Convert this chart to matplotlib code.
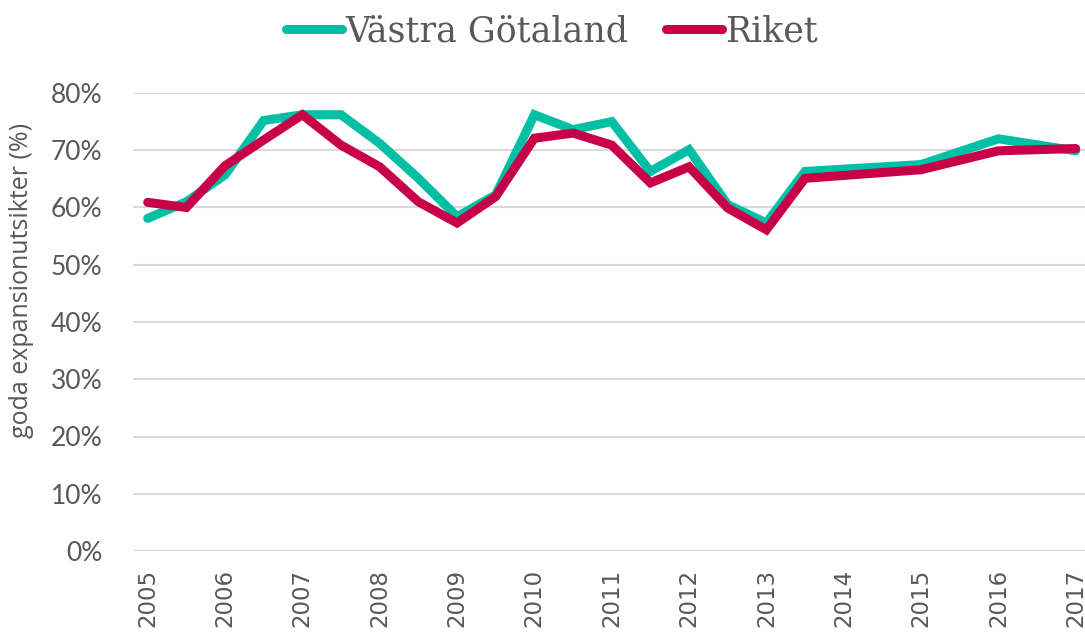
import matplotlib
matplotlib.use("Agg")
import matplotlib.pyplot as plt
from matplotlib.ticker import PercentFormatter

# Data (half-yearly until 2013.5, then yearly)
x_vals = [2005, 2005.5, 2006, 2006.5, 2007, 2007.5, 2008, 2008.5, 2009, 2009.5,
          2010, 2010.5, 2011, 2011.5, 2012, 2012.5, 2013, 2013.5, 2015, 2016, 2017]
vastra_gotaland = [58.1, 61.0, 65.7, 75.2, 76.2, 76.2, 71.2, 65.1, 58.4, 62.2,
                   76.2, 73.6, 75.0, 66.3, 70.1, 60.5, 57.3, 66.3, 67.5, 72.0, 69.9]
riket = [60.9, 60.0, 67.3, 71.8, 76.2, 70.9, 67.1, 61.0, 57.3, 61.9,
         72.1, 73.0, 70.9, 64.3, 67.1, 59.9, 56.1, 65.1, 66.6, 69.9, 70.3]
year_ticks = list(range(2005, 2018))
y_ticks = [0, 10, 20, 30, 40, 50, 60, 70, 80]

GREEN = "#00BFA5"
RED = "#C8004A"
TXT = "#595959"

fig = plt.figure(figsize=(10.85, 6.37), dpi=100)
ax = fig.add_axes([133/1085, 86/637, (1085-133)/1085, 458/637])

ax.plot(x_vals, vastra_gotaland, color=GREEN, lw=6.5, solid_capstyle="round",
        solid_joinstyle="miter", label="Västra Götaland", zorder=3)
ax.plot(x_vals, riket, color=RED, lw=6.5, solid_capstyle="round",
        solid_joinstyle="miter", label="Riket", zorder=4)

ax.set_xlim(2004.81, 2017.12)
ax.set_ylim(0, 80)
ax.set_yticks(y_ticks)
ax.yaxis.set_major_formatter(PercentFormatter(decimals=0))
ax.set_xticks(year_ticks)
ax.set_xticklabels([str(y) for y in year_ticks], rotation=90, va="top",
                   family="DejaVu Sans", fontsize=16.5, color=TXT)
for lab in ax.get_yticklabels():
    lab.set_family("Lato")
    lab.set_fontsize(19)
    lab.set_color(TXT)
ax.tick_params(axis="y", length=0, pad=22)
ax.tick_params(axis="x", length=0, pad=13)
ax.grid(axis="y", color="#D9D9D9", lw=1.5, zorder=0)
ax.set_axisbelow(True)
for s in ax.spines.values():
    s.set_visible(False)

fig.text(22/1085, 1 - 280/637, "goda expansionutsikter (%)", rotation=90,
         ha="center", va="center", family="Open Sans", fontsize=18, color=TXT)

leg = fig.legend(loc="center", bbox_to_anchor=(552/1085, 1 - 31/637), ncol=2,
                 frameon=False, handlelength=1.6, handletextpad=0.1,
                 columnspacing=1.1, prop={"family": "DejaVu Serif", "size": 25})
for t in leg.get_texts():
    t.set_color(TXT)
for h in leg.legend_handles:
    h.set_linewidth(6.5)
    h.set_solid_capstyle("round")

fig.savefig("out.png", dpi=100)
